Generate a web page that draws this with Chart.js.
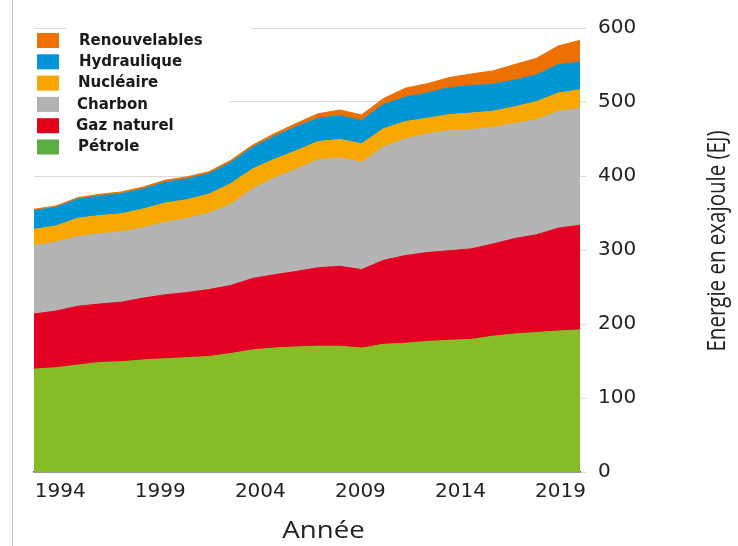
<!DOCTYPE html>
<html><head><meta charset="utf-8">
<script src="https://cdn.jsdelivr.net/npm/chart.js@4"></script>
<style>html,body{margin:0;padding:0;background:#fff}</style>
</head><body>
<canvas id="c" width="738" height="546" style="display:block"></canvas>
<script>
const years = [1994,1995,1996,1997,1998,1999,2000,2001,2002,2003,2004,2005,2006,2007,2008,2009,2010,2011,2012,2013,2014,2015,2016,2017,2018,2019];
const petrole      = [139,141,144.5,148,149,151.5,153,154.5,156,160,165,167.5,169,170,170,167.5,172.5,174,176.5,178,179,183.5,186.5,188.5,190.5,192];
const gazNaturel   = [74.5,76.5,79.5,79,80.5,83.5,86.5,88,90.5,92,96.5,99,102,106,108,106,113.5,118.5,120,121,122.5,124.5,129,132,139,141.5];
const charbon      = [92.5,93,94,95,95,95,98,100,103.5,109.5,121,131,138,146,146.5,145,153,157.5,160.5,162,161,157.5,155.5,155.5,158,157.5];
const nucleaire    = [22,22,25,24.5,24.5,25.5,26,25.5,25.5,28,27,25,25,24.5,25,25,25,23.5,21,22,22.5,22,22.5,24.5,24.5,25.5];
const hydraulique  = [25,25,25.5,26.5,27,27,28,28,27.5,28.5,29,31,32.5,31.5,32,31.5,32.5,33,34,36.5,37,36.5,36,36,38.5,37.5];
const renouvelables= [2,2,2.2,2.3,2.5,2.6,2.7,2.8,2.8,3,3.2,3.7,4.6,6,7.7,7.6,8.1,12.2,12.7,13.5,15.8,18,21.1,22.4,25.2,29.3];

const xTickYears = [1994,1999,2004,2009,2014,2019];
const yTicks = [0,100,200,300,400,500,600];

const seriesNames  = ['Pétrole','Gaz naturel','Charbon','Nucléaire','Hydraulique','Renouvelables'];
const seriesValues = [petrole, gazNaturel, charbon, nucleaire, hydraulique, renouvelables];
const areaColors   = ['#86bc25','#e30022','#b4b4b4','#f6a800','#0096d6','#ec7000'];
const legendColors = ['#5cac45','#e3001b','#b2b2b2','#f7a600','#0095da','#ee7203'];

const textColor = '#222222';

const decor = {
  id: 'decor',
  beforeDatasetsDraw(chart) {
    const ctx = chart.ctx;
    ctx.save();
    ctx.fillStyle = '#ffffff';
    ctx.fillRect(66, 22, 185, 12);
    ctx.fillRect(35, 30, 194, 128);
    // legend (top item = last series)
    const order = [5,4,3,2,1,0];
    const tx = [79,79,78,77,76,78];
    ctx.font = 'bold 15px "DejaVu Sans"';
    ctx.textBaseline = 'middle';
    ctx.textAlign = 'left';
    order.forEach((si, k) => {
      const y = 33 + k * 21.3;
      ctx.fillStyle = legendColors[si];
      ctx.fillRect(37, y, 22, 15);
      ctx.fillStyle = '#1a1a1a';
      ctx.fillText(seriesNames[si], tx[k], y + 8);
    });
    ctx.restore();
  },
  afterDraw(chart) {
    const ctx = chart.ctx;
    ctx.save();
    // y title
    ctx.fillStyle = textColor;
    ctx.translate(718, 241);
    ctx.rotate(-Math.PI / 2);
    ctx.scale(1, 1.25);
    ctx.font = '20.5px "Open Sans"';
    ctx.textAlign = 'center';
    ctx.textBaseline = 'middle';
    ctx.fillText('Energie en exajoule (EJ)', 0, 0);
    ctx.restore();
    ctx.save();
    ctx.fillStyle = textColor;
    ctx.translate(323.5, 538);
    ctx.scale(1.15, 1);
    ctx.font = '24px "Open Sans"';
    ctx.textAlign = 'center';
    ctx.textBaseline = 'alphabetic';
    ctx.fillText('Année', 0, 0);
    ctx.restore();
    ctx.save();
    ctx.strokeStyle = '#c4c4c4';
    ctx.lineWidth = 1;
    ctx.beginPath();
    ctx.moveTo(12.5, 0);
    ctx.lineTo(12.5, 546);
    ctx.stroke();
    ctx.restore();
  }
};

new Chart(document.getElementById('c'), {
  type: 'line',
  data: {
    labels: years,
    datasets: seriesValues.map((v, i) => ({
      label: seriesNames[i],
      data: v,
      backgroundColor: areaColors[i],
      borderColor: areaColors[i],
      borderWidth: 1,
      pointRadius: 0,
      pointHoverRadius: 0,
      tension: 0,
      fill: i === 0 ? 'origin' : '-1'
    }))
  },
  options: {
    responsive: false,
    animation: false,
    devicePixelRatio: 1,
    layout: { padding: { left: 34, right: 98, top: 28, bottom: 24 } },
    plugins: { legend: { display: false }, tooltip: { enabled: false }, title: { display: false } },
    scales: {
      x: { type: 'category', display: false, offset: false },
      x2: {
        type: 'linear', axis: 'x', position: 'bottom',
        min: 1992.69, max: 2019.975,
        afterBuildTicks: s => { s.ticks = xTickYears.map(v => ({ value: v })); },
        afterFit: s => { s.height = 50; },
        grid: { display: false, drawTicks: false },
        border: { display: true, color: '#5a5a5a', width: 1.5 },
        ticks: { font: { family: 'DejaVu Sans', size: 20 }, color: textColor, padding: 8,
                 maxRotation: 0, autoSkip: false, callback: v => String(v) }
      },
      y: {
        position: 'right', stacked: true, min: 0, max: 600,
        afterBuildTicks: s => { s.ticks = yTicks.map(v => ({ value: v })); },
        afterFit: s => { s.width = 60; },
        grid: { color: '#d9d9d9', lineWidth: 1, drawTicks: true, tickLength: 6 },
        border: { display: false },
        ticks: { font: { family: 'DejaVu Sans', size: 20 }, color: textColor, padding: 12,
                 callback: v => String(v) }
      }
    }
  },
  plugins: [decor]
});
</script>
</body></html>
